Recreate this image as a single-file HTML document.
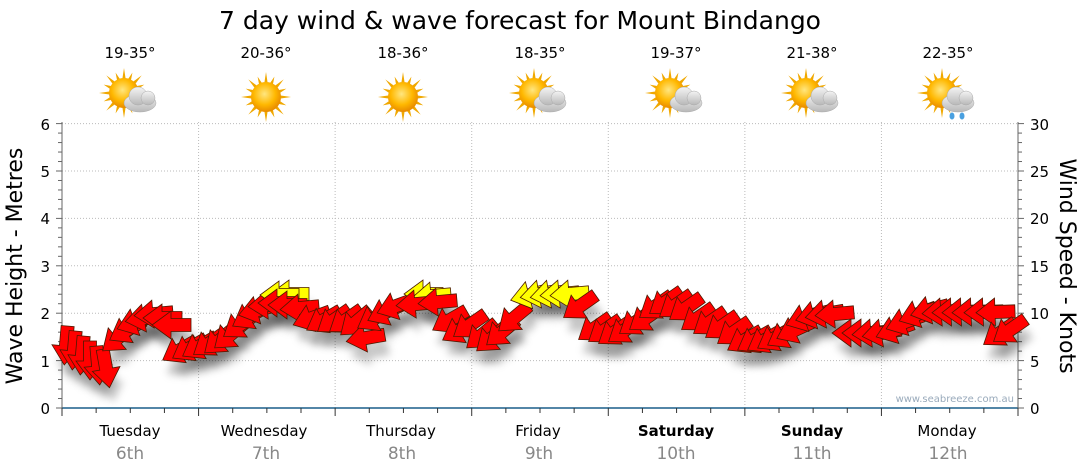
<!DOCTYPE html>
<html><head><meta charset="utf-8">
<style>
html,body{margin:0;padding:0;background:#fff;width:1080px;height:475px;overflow:hidden}
svg{display:block;font-family:"DejaVu Sans","Liberation Sans",sans-serif}
</style></head><body>
<svg id="s" width="1080" height="475" viewBox="0 0 1080 475">
<defs>
<filter id="sh" x="-50%" y="-50%" width="200%" height="200%"><feGaussianBlur stdDeviation="4"/></filter>
<radialGradient id="sun" cx="45%" cy="40%" r="60%"><stop offset="0" stop-color="#ffe680"/><stop offset="0.6" stop-color="#ffb800"/><stop offset="1" stop-color="#e88a00"/></radialGradient>
<linearGradient id="cl" x1="0" y1="0" x2="0" y2="1"><stop offset="0" stop-color="#f4f4f4"/><stop offset="1" stop-color="#b8b8b8"/></linearGradient>
</defs>
<text x="520" y="29" font-size="25" text-anchor="middle" fill="#000">7 day wind &amp; wave forecast for Mount Bindango</text>
<g font-size="15" text-anchor="middle" fill="#000">
<text x="130" y="58">19-35°</text><text x="266" y="58">20-36°</text><text x="403" y="58">18-36°</text><text x="540" y="58">18-35°</text><text x="676" y="58">19-37°</text><text x="812" y="58">21-38°</text><text x="948" y="58">22-35°</text>
</g>
<g id="icons"></g>
<g id="grid"></g>
<g id="arrows"></g>
<g font-size="15" fill="#000" text-anchor="end">
<text x="50" y="414">0</text><text x="50" y="367">1</text><text x="50" y="319">2</text><text x="50" y="272">3</text><text x="50" y="224">4</text><text x="50" y="177">5</text><text x="50" y="130">6</text>
</g>
<g font-size="15" fill="#000" text-anchor="start">
<text x="1030" y="414">0</text><text x="1030" y="367">5</text><text x="1030" y="319">10</text><text x="1030" y="272">15</text><text x="1030" y="224">20</text><text x="1030" y="177">25</text><text x="1030" y="130">30</text>
</g>
<text transform="translate(22,266) rotate(-90)" font-size="22" text-anchor="middle">Wave Height - Metres</text>
<text transform="translate(1060,266) rotate(90)" font-size="22" text-anchor="middle">Wind Speed - Knots</text>
<text x="1014" y="402" font-size="10" fill="#9ab" text-anchor="end">www.seabreeze.com.au</text>
<g font-size="15" text-anchor="middle">
<text x="130" y="436">Tuesday</text><text x="264" y="436">Wednesday</text><text x="401" y="436">Thursday</text><text x="538" y="436">Friday</text><text x="676" y="436" font-weight="bold">Saturday</text><text x="812" y="436" font-weight="bold">Sunday</text><text x="947" y="436">Monday</text>
</g>
<g font-size="17" text-anchor="middle" fill="#888">
<text x="130" y="459">6th</text><text x="266" y="459">7th</text><text x="402" y="459">8th</text><text x="539" y="459">9th</text><text x="676" y="459">10th</text><text x="812" y="459">11th</text><text x="948" y="459">12th</text>
</g>
</svg>
<script>
var NS="http://www.w3.org/2000/svg";
function el(p,t,a){var e=document.createElementNS(NS,t);for(var k in a)e.setAttribute(k,a[k]);p.appendChild(e);return e;}
var g=document.getElementById('grid'),X0=62,X1=1018,Y0=408,PM=47.4,DW=(X1-X0)/7;
for(var i=1;i<=6;i++){var y=Y0-i*PM;el(g,'line',{x1:X0,x2:X1,y1:y,y2:y,stroke:'#bbb','stroke-dasharray':'1,2'});}
for(var d=1;d<7;d++){var x=X0+d*DW;el(g,'line',{x1:x,x2:x,y1:122,y2:Y0,stroke:'#bbb','stroke-dasharray':'1,2'});}
el(g,'line',{x1:X0,x2:X1,y1:Y0,y2:Y0,stroke:'#1a5f8a','stroke-width':1.5});
el(g,'line',{x1:X0,x2:X0,y1:122,y2:Y0,stroke:'#666'});
el(g,'line',{x1:X1,x2:X1,y1:122,y2:Y0,stroke:'#666'});
for(var i=0;i<=30;i++){var y=Y0-i*PM/5;var L=(i%5==0)?6:4;el(g,'line',{x1:X0-L,x2:X0,y1:y,y2:y,stroke:'#666'});el(g,'line',{x1:X1,x2:X1+L,y1:y,y2:y,stroke:'#666'});}
for(var i=0;i<=28;i++){var x=X0+i*DW/4;el(g,'line',{x1:x,x2:x,y1:Y0,y2:Y0+(i%4==0?8:5),stroke:'#333'});}
var A=[
[66,345,95,'r'],[74,350,95,'r'],[82,355,95,'r'],[90,360,90,'r'],[98,365,85,'r'],[106,368,80,'r'],
[118,338,140,'r'],[127,330,150,'r'],[136,322,160,'r'],[145,318,170,'r'],[154,314,175,'r'],[163,318,180,'r'],[172,325,180,'r'],
[180,350,150,'r'],[190,348,150,'r'],[200,346,150,'r'],[210,343,145,'r'],[220,340,140,'r'],[230,335,140,'r'],[240,325,145,'r'],[250,316,150,'r'],
[258,310,165,'r'],[268,305,175,'r'],[290,294,180,'y'],[280,295,180,'y'],[278,303,180,'r'],[288,305,180,'r'],[300,308,175,'r'],[312,318,160,'r'],[324,320,150,'r'],[334,320,145,'r'],
[346,320,145,'r'],[356,322,140,'r'],[366,338,170,'r'],[375,318,150,'r'],[386,312,155,'r'],[396,306,160,'r'],[424,294,180,'y'],[432,296,175,'y'],[416,304,175,'r'],[438,302,175,'r'],
[450,320,150,'r'],[460,330,150,'r'],[470,325,145,'r'],[482,335,140,'r'],[492,338,140,'r'],[502,332,140,'r'],[514,318,140,'r'],
[530,295,165,'y'],[540,294,170,'y'],[550,294,170,'y'],[560,294,175,'y'],[570,294,175,'y'],[580,306,145,'r'],
[595,328,145,'r'],[605,330,145,'r'],[615,332,145,'r'],[625,330,145,'r'],[636,322,145,'r'],[646,318,145,'r'],[656,306,145,'r'],[666,302,145,'r'],[676,305,145,'r'],[686,308,145,'r'],
[698,318,145,'r'],[710,322,145,'r'],[722,326,145,'r'],[734,332,145,'r'],
[745,340,150,'r'],[755,340,150,'r'],[765,340,150,'r'],[775,338,150,'r'],[785,335,150,'r'],[795,330,155,'r'],[805,318,160,'r'],[815,315,165,'r'],[825,314,170,'r'],[835,314,175,'r'],
[852,333,180,'r'],[862,333,180,'r'],[872,333,175,'r'],[882,333,170,'r'],[895,330,160,'r'],[905,322,160,'r'],[918,314,160,'r'],[930,310,165,'r'],
[942,312,175,'r'],[952,312,178,'r'],[962,312,178,'r'],[972,312,178,'r'],[984,312,178,'r'],[996,312,178,'r'],
[1000,333,145,'r'],[1010,330,145,'r']];
var ag=document.getElementById('arrows');
var P="-19,-6.5 1,-6.5 1,-14 20,0 1,14 1,6.5 -19,6.5";
A.forEach(function(a){el(ag,'polygon',{points:P,fill:'#000','fill-opacity':0.22,filter:'url(#sh)',transform:'translate('+(a[0]+4)+','+(a[1]+14)+') rotate('+a[2]+')'});});
A.forEach(function(a){el(ag,'polygon',{points:P,fill:a[3]=='y'?'#ffff00':'#ff0000',stroke:'#4a1a00','stroke-width':0.8,transform:'translate('+a[0]+','+a[1]+') rotate('+a[2]+')'});});
var ic=document.getElementById('icons');
var cx=[130,266,403,540,676,812,948],cloud=[1,0,0,1,1,1,1];
cx.forEach(function(x,i){var sx=cloud[i]?x-6:x,sy=cloud[i]?93:97;
 for(var k=0;k<16;k++){var an=k*Math.PI/8,r1=14,r2=(k%2?22:25);el(ic,'polygon',{points:(sx+Math.cos(an-0.12)*r1)+','+(sy+Math.sin(an-0.12)*r1)+' '+(sx+Math.cos(an)*r2)+','+(sy+Math.sin(an)*r2)+' '+(sx+Math.cos(an+0.12)*r1)+','+(sy+Math.sin(an+0.12)*r1),fill:'#f0a800'});}
 el(ic,'circle',{cx:sx,cy:sy,r:15,fill:'url(#sun)'});
 if(cloud[i]){var g2=el(ic,'g',{fill:'url(#cl)',stroke:'#aaa','stroke-width':0.5});
  el(g2,'ellipse',{cx:x+10,cy:103,rx:16,ry:9});el(g2,'circle',{cx:x+8,cy:96,r:9});el(g2,'circle',{cx:x+18,cy:98,r:7});}
 if(i==6){el(ic,'ellipse',{cx:x+4,cy:116,rx:2.5,ry:3.5,fill:'#4aa0e0'});el(ic,'ellipse',{cx:x+14,cy:116,rx:2.5,ry:3.5,fill:'#4aa0e0'});}
});
</script>
</body></html>
